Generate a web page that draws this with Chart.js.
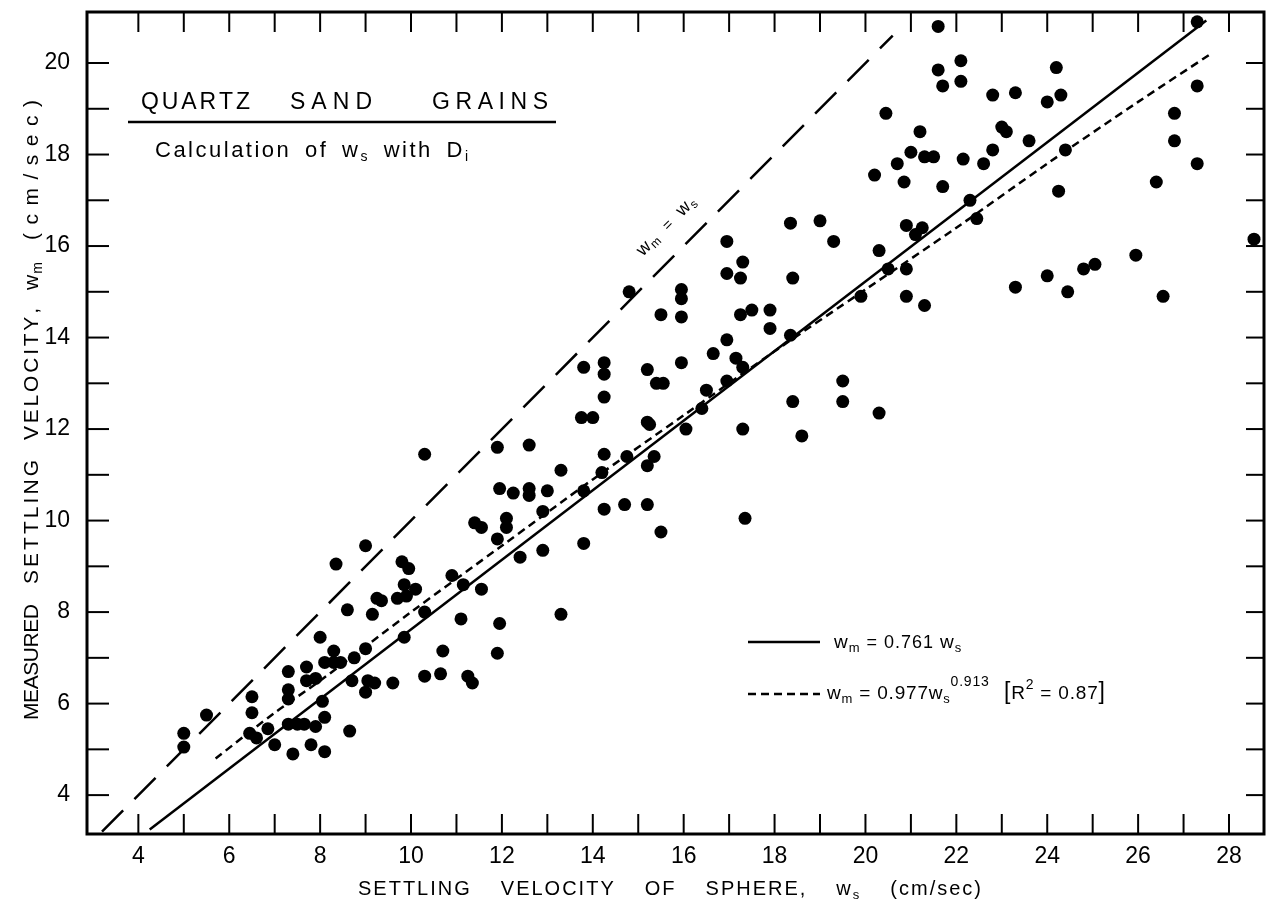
<!DOCTYPE html>
<html>
<head>
<meta charset="utf-8">
<title>Quartz sand grains - settling velocity</title>
<script src="https://cdn.jsdelivr.net/npm/chart.js@4.4.1/dist/chart.umd.min.js"></script>
<style>
  html, body { margin: 0; padding: 0; background: #fff; }
  #wrap { width: 1272px; height: 914px; }
</style>
</head>
<body>
<div id="wrap"><canvas id="chart" width="1272" height="914"></canvas></div>
<script>
// settling velocity of sphere (x) and measured settling velocity (y), cm/sec
const wsMeasured = [
  5.0, 5.0, 5.5, 6.5, 6.5, 6.45, 6.6, 6.85, 7.0,
  7.3, 7.3, 7.3, 7.3, 7.4, 7.5, 7.65, 7.7, 7.7, 7.8, 7.9, 7.9,
  8.0, 8.05, 8.1, 8.1, 8.1, 8.3, 8.3, 8.35, 8.45, 8.6, 8.65, 8.7, 8.75,
  9.0, 9.0, 9.05, 9.0, 9.15, 9.25, 9.2, 9.35, 9.6, 9.7, 9.8, 9.85, 9.9, 9.95, 9.85,
  10.1, 10.3, 10.3, 10.3, 10.65, 10.7, 10.9, 11.1, 11.15, 11.25, 11.35, 11.4, 11.55, 11.55,
  11.9, 11.95, 11.9, 11.95, 11.9, 12.1, 12.1, 12.25, 12.4, 12.6, 12.6, 12.6, 12.9, 12.9, 13.0,
  13.3, 13.3, 13.8, 13.75, 14.0, 13.8, 13.8, 14.25, 14.25, 14.25, 14.25, 14.2, 14.25,
  14.7, 14.75, 14.8,
  15.2, 15.2, 15.25, 15.2, 15.2, 15.35, 15.4, 15.5, 15.5, 15.55,
  15.95, 15.95, 15.95, 15.95, 16.05, 16.4, 16.5, 16.65,
  16.95, 16.95, 16.95, 16.95, 17.15, 17.3, 17.25, 17.25, 17.3, 17.3, 17.35, 17.5, 17.9, 17.9,
  18.35, 18.35, 18.4, 18.4, 18.6, 19.0, 19.3, 19.5, 19.5, 19.9,
  20.2, 20.3, 20.3, 20.45, 20.5, 20.7, 20.85, 20.9, 20.9, 20.9, 21.0, 21.1, 21.2, 21.3, 21.25, 21.3,
  21.5, 21.6, 21.6, 21.7, 21.7, 22.1, 22.1, 22.15, 22.3, 22.45, 22.6, 22.8, 22.8,
  23.0, 23.1, 23.3, 23.3, 23.6, 24.0, 24.0, 24.2, 24.3, 24.25, 24.4, 24.45, 24.8, 25.05,
  25.95, 26.4, 26.55, 26.8, 26.8, 27.3, 27.3, 27.3, 28.55
];
const wmMeasured = [
  5.35, 5.05, 5.75, 6.15, 5.8, 5.35, 5.25, 5.45, 5.1,
  6.7, 6.3, 6.1, 5.55, 4.9, 5.55, 5.55, 6.8, 6.5, 5.1, 5.5, 6.55,
  7.45, 6.05, 5.7, 4.95, 6.9, 6.9, 7.15, 9.05, 6.9, 8.05, 5.4, 6.5, 7.0,
  7.2, 9.45, 6.5, 6.25, 7.95, 8.3, 6.45, 8.25, 6.45, 8.3, 9.1, 8.6, 8.35, 8.95, 7.45,
  8.5, 11.45, 8.0, 6.6, 6.65, 7.15, 8.8, 7.85, 8.6, 6.6, 6.45, 9.95, 8.5, 9.85,
  11.6, 10.7, 9.6, 7.75, 7.1, 10.05, 9.85, 10.6, 9.2, 11.65, 10.7, 10.55, 10.2, 9.35, 10.65,
  11.1, 7.95, 13.35, 12.25, 12.25, 10.65, 9.5, 13.45, 13.2, 12.7, 11.45, 11.05, 10.25,
  10.35, 11.4, 15.0,
  13.3, 12.15, 12.1, 11.2, 10.35, 11.4, 13.0, 14.5, 9.75, 13.0,
  15.05, 14.85, 14.45, 13.45, 12.0, 12.45, 12.85, 13.65,
  16.1, 15.4, 13.95, 13.05, 13.55, 15.65, 15.3, 14.5, 13.35, 12.0, 10.05, 14.6, 14.6, 14.2,
  16.5, 14.05, 15.3, 12.6, 11.85, 16.55, 16.1, 13.05, 12.6, 14.9,
  17.55, 15.9, 12.35, 18.9, 15.5, 17.8, 17.4, 16.45, 15.5, 14.9, 18.05, 16.25, 18.5, 17.95, 16.4, 14.7,
  17.95, 19.85, 20.8, 19.5, 17.3, 20.05, 19.6, 17.9, 17.0, 16.6, 17.8, 19.3, 18.1,
  18.6, 18.5, 19.35, 15.1, 18.3, 19.15, 15.35, 19.9, 19.3, 17.2, 18.1, 15.0, 15.5, 15.6,
  15.8, 17.4, 14.9, 18.9, 18.3, 20.9, 19.5, 17.8, 16.15
];

// wm = 0.761 ws (solid), read at its two ends
const linearFitWs = [4.25, 27.5];
const linearFitWm = [3.25, 20.93];
// wm = 0.977 ws^0.913 (short dashes)
const powerFitWs = [5.7, 7, 8, 10, 12, 14, 16, 18, 20, 22, 24, 26, 27.6];
const powerFitWm = [4.8, 5.8, 6.5, 8.0, 9.45, 10.9, 12.3, 13.7, 15.05, 16.4, 17.8, 19.15, 20.2];
// wm = ws (long dashes)
const equalLineWs = [3.2, 20.6];
const equalLineWm = [3.2, 20.6];

const xTickValues = [4, 5, 6, 7, 8, 9, 10, 11, 12, 13, 14, 15, 16, 17, 18, 19, 20, 21, 22, 23, 24, 25, 26, 27, 28];
const yTickValues = [4, 5, 6, 7, 8, 9, 10, 11, 12, 13, 14, 15, 16, 17, 18, 19, 20];
const xRange = [2.87, 28.77];
const yRange = [3.15, 21.115];
const equalLabelAt = [15.6, 16.45];

const FONT = '"Liberation Sans", Arial, sans-serif';

function toPoints(xs, ys) {
  return xs.map((v, i) => ({x: v, y: ys[i]}));
}

// a word is a list of runs {t, size, dy}
function glyphList(ctx, word) {
  let out = [];
  word.forEach(function (r) {
    ctx.font = r.size + 'px ' + FONT;
    for (const ch of r.t) {
      out.push({ch: ch, size: r.size, dy: r.dy || 0, w: ctx.measureText(ch).width});
    }
  });
  return out;
}

function putGlyphs(ctx, glyphs, x, y, gap) {
  let cx = x;
  glyphs.forEach(function (c) {
    ctx.font = c.size + 'px ' + FONT;
    ctx.fillText(c.ch, cx, y + c.dy);
    cx += c.w + gap;
  });
  return cx - gap;
}

// several words between x0 and x1, fixed letter gap, word gaps stretched
function drawWords(ctx, words, x0, x1, y, letterGap) {
  let glyphWords = words.map(w => glyphList(ctx, w));
  let natural = 0;
  glyphWords.forEach(function (g) {
    g.forEach(c => natural += c.w);
    natural += letterGap * (g.length - 1);
  });
  let wordGap = glyphWords.length > 1 ? (x1 - x0 - natural) / (glyphWords.length - 1) : 0;
  let cx = x0;
  glyphWords.forEach(function (g) {
    cx = putGlyphs(ctx, g, cx, y, letterGap) + wordGap;
  });
}

// one word stretched between x0 and x1
function drawFitted(ctx, word, x0, x1, y) {
  let g = glyphList(ctx, word);
  let natural = g.reduce((s, c) => s + c.w, 0);
  let gap = g.length > 1 ? (x1 - x0 - natural) / (g.length - 1) : 0;
  putGlyphs(ctx, g, x0, y, gap);
}

function seg(ctx, x1, y1, x2, y2) {
  ctx.beginPath();
  ctx.moveTo(x1, y1);
  ctx.lineTo(x2, y2);
  ctx.stroke();
}

const paperPlugin = {
  id: 'paper',
  beforeDraw(chart) {
    const ctx = chart.ctx;
    ctx.save();
    ctx.fillStyle = '#fff';
    ctx.fillRect(0, 0, chart.width, chart.height);
    ctx.restore();
  },
  afterDraw(chart) {
    const ctx = chart.ctx;
    const a = chart.chartArea;
    const xs = chart.scales.x;
    const ys = chart.scales.y;
    ctx.save();
    ctx.strokeStyle = '#000';
    ctx.fillStyle = '#000';
    ctx.textBaseline = 'alphabetic';
    ctx.textAlign = 'left';

    // frame and inward tick marks on all four sides
    ctx.lineWidth = 3;
    ctx.strokeRect(a.left, a.top, a.right - a.left, a.bottom - a.top);
    ctx.lineWidth = 2;
    xTickValues.forEach(function (v) {
      const p = xs.getPixelForValue(v);
      seg(ctx, p, a.bottom, p, a.bottom - 20);
      seg(ctx, p, a.top, p, a.top + 20);
    });
    yTickValues.forEach(function (v) {
      const p = ys.getPixelForValue(v);
      seg(ctx, a.left, p, a.left + 22, p);
      seg(ctx, a.right, p, a.right - 18, p);
    });

    // axis titles
    drawWords(ctx, [
      [{t: 'SETTLING', size: 20}], [{t: 'VELOCITY', size: 20}], [{t: 'OF', size: 20}],
      [{t: 'SPHERE,', size: 20}], [{t: 'w', size: 20}, {t: 's', size: 13, dy: 4}],
      [{t: '(cm/sec)', size: 20}]
    ], 358, 981, 895, 2);

    ctx.save();
    ctx.rotate(-Math.PI / 2);
    drawFitted(ctx, [{t: 'MEASURED', size: 21}], -720, -604, 38);
    drawFitted(ctx, [{t: 'SETTLING', size: 21}], -584, -460, 38);
    drawFitted(ctx, [{t: 'VELOCITY,', size: 21}], -440, -308, 38);
    drawFitted(ctx, [{t: 'w', size: 21}, {t: 'm', size: 14, dy: 4}], -290, -262, 38);
    drawFitted(ctx, [{t: '(cm/sec)', size: 21}], -240, -100, 38);
    ctx.restore();

    // title block
    drawFitted(ctx, [{t: 'QUARTZ', size: 23}], 141, 250, 109);
    drawFitted(ctx, [{t: 'SAND', size: 23}], 290, 372, 109);
    drawFitted(ctx, [{t: 'GRAINS', size: 23}], 432, 548, 109);
    ctx.lineWidth = 2.5;
    seg(ctx, 128, 122, 556, 122);
    drawWords(ctx, [
      [{t: 'Calculation', size: 22}], [{t: 'of', size: 22}],
      [{t: 'w', size: 22}, {t: 's', size: 14, dy: 4}], [{t: 'with', size: 22}],
      [{t: 'D', size: 22}, {t: 'i', size: 14, dy: 4}]
    ], 155, 468, 157, 2.5);

    // label on the 1:1 line
    ctx.save();
    ctx.translate(xs.getPixelForValue(equalLabelAt[0]), ys.getPixelForValue(equalLabelAt[1]));
    ctx.rotate(-Math.atan2(Math.abs(ys.getPixelForValue(1) - ys.getPixelForValue(0)),
                           Math.abs(xs.getPixelForValue(1) - xs.getPixelForValue(0))));
    drawWords(ctx, [
      [{t: 'w', size: 18}, {t: 'm', size: 12, dy: 3}], [{t: '=', size: 15}],
      [{t: 'w', size: 18}, {t: 's', size: 12, dy: 3}]
    ], -38, 38, 6, 1);
    ctx.restore();

    // legend
    ctx.lineWidth = 2.5;
    ctx.setLineDash([]);
    seg(ctx, 748, 642, 820, 642);
    putGlyphs(ctx, glyphList(ctx, [
      {t: 'w', size: 19}, {t: 'm', size: 13, dy: 4}, {t: ' = 0.761 ', size: 18},
      {t: 'w', size: 19}, {t: 's', size: 13, dy: 4}
    ]), 834, 648, 1);
    ctx.setLineDash([8, 5]);
    seg(ctx, 748, 694, 820, 694);
    ctx.setLineDash([]);
    putGlyphs(ctx, glyphList(ctx, [
      {t: 'w', size: 19}, {t: 'm', size: 13, dy: 4}, {t: ' = 0.977', size: 19},
      {t: 'w', size: 19}, {t: 's', size: 13, dy: 4}, {t: '0.913', size: 14, dy: -13},
      {t: '  [', size: 23}, {t: 'R', size: 19}, {t: '2', size: 14, dy: -10},
      {t: ' = 0.87', size: 19}, {t: ']', size: 23}
    ]), 827, 699, 0.8);

    ctx.restore();
  }
};

const tickFont = {family: FONT, size: 23};

new Chart(document.getElementById('chart'), {
  type: 'scatter',
  data: {
    datasets: [
      {
        label: 'measured',
        data: toPoints(wsMeasured, wmMeasured),
        backgroundColor: '#000',
        borderWidth: 0,
        pointRadius: 6.5,
        pointHoverRadius: 6.5,
        clip: false
      },
      {
        label: 'wm = 0.761 ws',
        data: toPoints(linearFitWs, linearFitWm),
        showLine: true,
        borderColor: '#000',
        borderWidth: 2.5,
        pointRadius: 0
      },
      {
        label: 'wm = 0.977 ws^0.913',
        data: toPoints(powerFitWs, powerFitWm),
        showLine: true,
        borderColor: '#000',
        borderWidth: 2.5,
        borderDash: [8, 5],
        pointRadius: 0,
        tension: 0.3
      },
      {
        label: 'wm = ws',
        data: toPoints(equalLineWs, equalLineWm),
        showLine: true,
        borderColor: '#000',
        borderWidth: 2.5,
        borderDash: [30, 16],
        pointRadius: 0
      }
    ]
  },
  options: {
    responsive: false,
    devicePixelRatio: 1,
    animation: false,
    layout: {padding: {top: 12, right: 8, left: 0, bottom: 0}},
    plugins: {legend: {display: false}, tooltip: {enabled: false}},
    scales: {
      x: {
        type: 'linear',
        min: xRange[0],
        max: xRange[1],
        afterBuildTicks: s => { s.ticks = xTickValues.map(v => ({value: v})); },
        afterFit: s => { s.height = 80; s.paddingLeft = 0; s.paddingRight = 0; },
        grid: {display: false, drawTicks: false},
        border: {display: false},
        ticks: {
          autoSkip: false, maxRotation: 0, color: '#000', font: tickFont, padding: 9,
          callback: v => (v % 2 === 0 ? String(v) : '')
        }
      },
      y: {
        type: 'linear',
        min: yRange[0],
        max: yRange[1],
        afterBuildTicks: s => { s.ticks = yTickValues.map(v => ({value: v})); },
        afterFit: s => { s.width = 87; s.paddingTop = 0; s.paddingBottom = 0; },
        grid: {display: false, drawTicks: false},
        border: {display: false},
        ticks: {
          autoSkip: false, color: '#000', font: tickFont, padding: 17,
          callback: v => (v % 2 === 0 ? String(v) : '')
        }
      }
    }
  },
  plugins: [paperPlugin]
});
</script>
</body>
</html>
